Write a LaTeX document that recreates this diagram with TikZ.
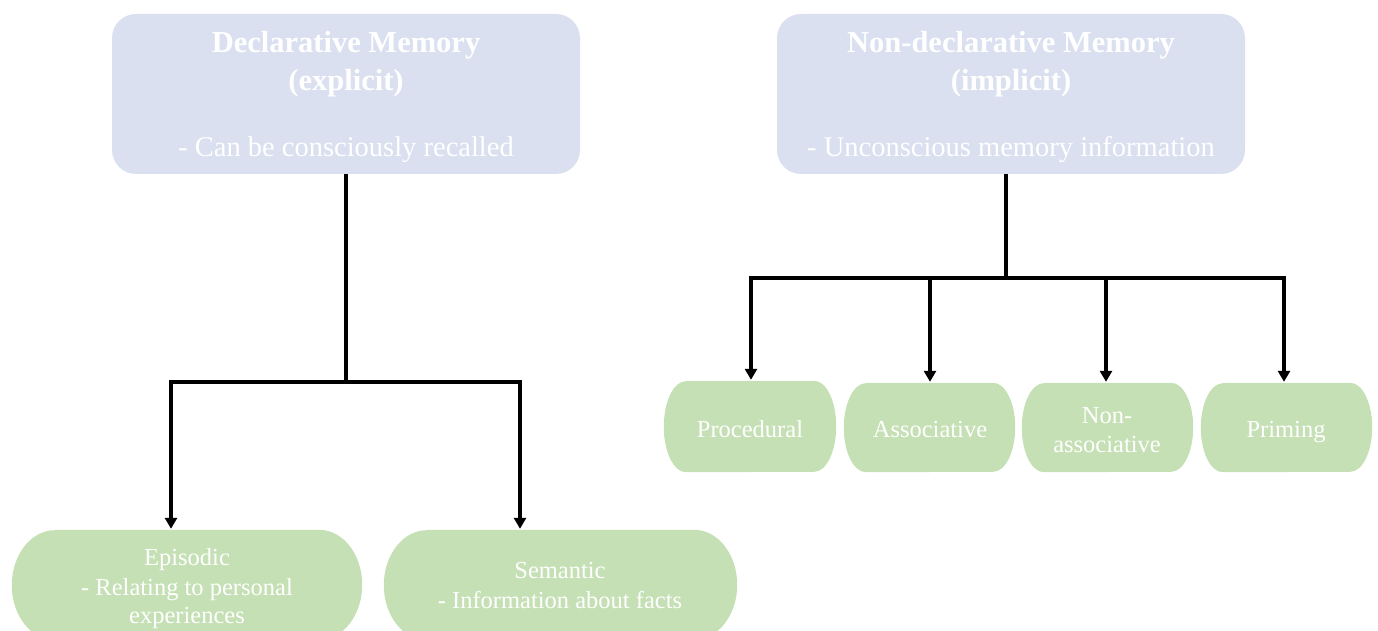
\documentclass[tikz,border=0pt]{standalone}
\usepackage{fontspec}
\setmainfont{Liberation Serif}
\usetikzlibrary{arrows.meta}
\definecolor{boxblue}{HTML}{DAE0F0}
\definecolor{boxgreen}{HTML}{C5E0B4}
\newcommand\stadiumfill[3]{% node name, rx, ry
  \fill[boxgreen] ([xshift=#2pt]#1.north west) -- ([xshift=-#2pt]#1.north east)
    arc[start angle=90,end angle=-90,x radius=#2pt,y radius=#3pt]
    -- ([xshift=#2pt]#1.south west)
    arc[start angle=270,end angle=90,x radius=#2pt,y radius=#3pt] -- cycle;}
\begin{document}
\begin{tikzpicture}[x=1pt,y=-1pt,
  conn/.style={line width=3.3pt},
  arr/.style={line width=3.3pt,-{Triangle[length=11pt,width=12pt]}},
  arrboth/.style={line width=3.3pt,{Triangle[length=11pt,width=12pt]}-{Triangle[length=11pt,width=12pt]}},
  titletxt/.style={text=white,font=\fontsize{30.5}{34}\selectfont\bfseries,anchor=base,inner sep=0pt},
  subtxt/.style={text=white,font=\fontsize{28.5}{34}\selectfont,anchor=base,inner sep=0pt},
  smalltxt/.style={text=white,font=\fontsize{24.5}{29}\selectfont,anchor=base,inner sep=0pt},
  topbox/.style={fill=boxblue,rounded corners=24pt,draw=none,minimum width=468pt,minimum height=160pt,inner sep=0pt},
  gbox/.style={draw=none,inner sep=0pt},
  ]
\useasboundingbox (0,0) rectangle (1378,631);
\clip (0,0) rectangle (1378,631);

% top boxes
\node[topbox] (decl) at (346,94) {};
\node[topbox] (nondecl) at (1011,94) {};
\node[titletxt] (declA) at (346,53) {Declarative Memory};
\node[titletxt] (declB) at (346,91) {(explicit)};
\node[subtxt] (declC) at (346,157) {- Can be consciously recalled};
\node[titletxt] (ndA) at (1011,53) {Non-declarative Memory};
\node[titletxt] (ndB) at (1011,91) {(implicit)};
\node[subtxt] (ndC) at (1011,157) {- Unconscious memory information};

% green boxes (shapes)
\node[gbox,minimum width=350pt,minimum height=110pt] (epi) at (187,585) {};
\node[gbox,minimum width=353pt,minimum height=110pt] (sem) at (560.5,585) {};
\node[gbox,minimum width=172pt,minimum height=91pt] (proc) at (750,426.5) {};
\node[gbox,minimum width=171pt,minimum height=89pt] (asso) at (929.5,427.5) {};
\node[gbox,minimum width=171pt,minimum height=89pt] (nona) at (1107.5,427.5) {};
\node[gbox,minimum width=171pt,minimum height=89pt] (prim) at (1286.5,427.5) {};
\stadiumfill{epi}{43}{55}
\stadiumfill{sem}{43}{55}
\stadiumfill{proc}{22}{45.5}
\stadiumfill{asso}{22}{44.5}
\stadiumfill{nona}{22}{44.5}
\stadiumfill{prim}{22}{44.5}

% texts in green boxes
\node[smalltxt] (epiA) at (187,565) {Episodic};
\node[smalltxt] (epiB) at (187,595) {- Relating to personal};
\node[smalltxt] (epiC) at (187,623) {experiences};
\node[smalltxt] (semA) at (560,578) {Semantic};
\node[smalltxt] (semB) at (560,608) {- Information about facts};
\node[smalltxt] (procT) at (750,437) {Procedural};
\node[smalltxt] (assoT) at (930,437) {Associative};
\node[smalltxt] (nonaA) at (1107,423) {Non-};
\node[smalltxt] (nonaB) at (1107,452) {associative};
\node[smalltxt] (primT) at (1286,437) {Priming};

% connectors left
\coordinate (lb1) at (171,382);
\coordinate (lb2) at (520,382);
\draw[conn] (decl.south) -- (decl.south |- lb1);
\draw[arrboth] ([yshift=1pt]lb1 |- epi.north) -- (lb1) -- (lb2) -- ([yshift=1pt]lb2 |- sem.north);

% connectors right
\coordinate (rs) at (1006,174);
\coordinate (rb1) at (751,278);
\coordinate (rb2) at (930,278);
\coordinate (rb3) at (1106,278);
\coordinate (rb4) at (1284,278);
\draw[conn] (rs) -- (rs |- rb1);
\draw[arrboth] ([yshift=1pt]rb1 |- proc.north) -- (rb1) -- (rb4) -- ([yshift=1pt]rb4 |- prim.north);
\draw[arr] (rb2) -- ([yshift=1pt]rb2 |- asso.north);
\draw[arr] (rb3) -- ([yshift=1pt]rb3 |- nona.north);
\end{tikzpicture}
\end{document}
